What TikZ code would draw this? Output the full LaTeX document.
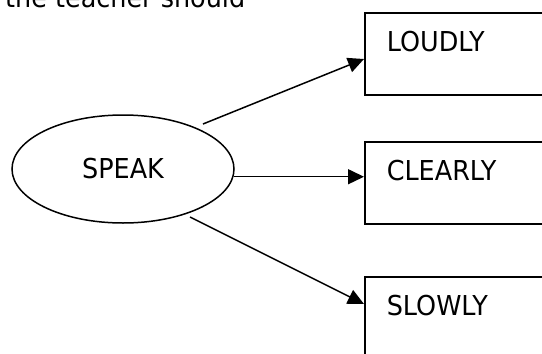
\documentclass[tikz,border=0pt]{standalone}
\usepackage{fontspec}
\setmainfont{DejaVu Sans}[FakeStretch=0.93]
\usetikzlibrary{shapes.geometric,arrows.meta,calc}
\begin{document}
\begin{tikzpicture}[x=1pt,y=-1pt,
  every node/.style={font=\fontsize{27.4}{30}\selectfont},
  wordbox/.style={draw, line width=1.5pt, anchor=north west, align=left,
    text width=156pt, inner xsep=22pt, inner ysep=18.7pt,
    text height=20pt, text depth=24.6pt},
  arr/.style={line width=1.5pt, -{Triangle[length=16pt,width=15pt]}}]
\useasboundingbox (0,0) rectangle (542,354);
\node[anchor=base west, inner sep=0] (title) at (5,7.3) {the teacher should};
\node[draw, ellipse, line width=1.5pt, minimum width=222pt, minimum height=108pt, inner sep=0] (speak) at (123,169) {SPEAK\hspace{18pt}};
\node[wordbox] (loudly) at (364,12) {LOUDLY};
\node[wordbox] (clearly) at (364,141) {CLEARLY};
\node[wordbox] (slowly) at (364,276) {SLOWLY};
\coordinate (s1) at (203,124);
\coordinate (s3) at (190,217);
\draw[arr] (s1) -- ([yshift=-47pt]loudly.north west);
\draw[arr] (speak.-4.7) -- (speak.-4.7 -| clearly.west);
\draw[arr] (s3) -- ([yshift=-28pt]slowly.north west);
\end{tikzpicture}
\end{document}
